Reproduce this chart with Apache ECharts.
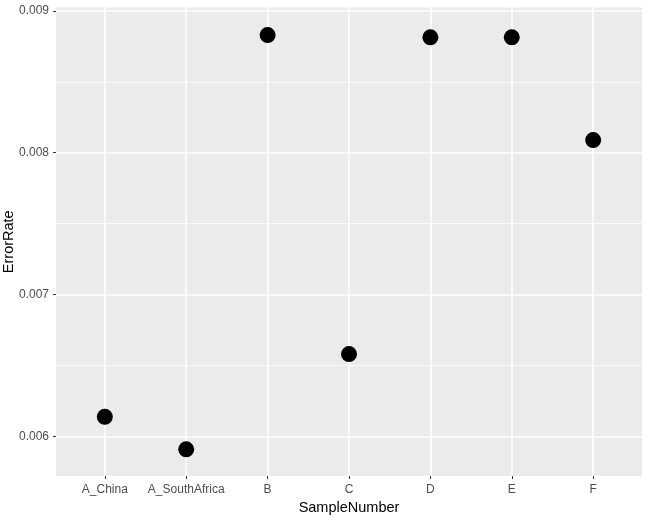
<!DOCTYPE html>
<html>
<head>
<meta charset="utf-8">
<script src="https://cdn.jsdelivr.net/npm/echarts@6/dist/echarts.min.js"></script>
<style>
  html, body { margin: 0; padding: 0; background: #fff; }
  #chart { width: 645px; height: 518px; }
</style>
</head>
<body>
<div id="chart"></div>
<script>
// sample names along the x axis
const categories = ["A_China", "A_SouthAfrica", "B", "C", "D", "E", "F"];
// error rate per sample
const errorRates = [0.00614, 0.005911, 0.008829, 0.006582, 0.008813, 0.008813, 0.008089];
// labelled y ticks and the minor lines between them
const yMajorTicks = [0.006, 0.007, 0.008, 0.009];
const yMinorTicks = [0.0065, 0.0075, 0.0085];

const chart = echarts.init(document.getElementById("chart"));

const points = errorRates.map((v, i) => [i, v]);
const catIdx = categories.map((c, i) => i);

const labelFont = { fontFamily: "Liberation Sans", fontSize: 12, color: "#4d4d4d" };
const titleFont = { fontFamily: "Liberation Sans", fontSize: 14.5, color: "#000" };

chart.setOption({
  animation: false,
  backgroundColor: "#fff",
  grid: {
    left: 56,
    right: 3,
    top: 7.5,
    bottom: 42,
    containLabel: false,
    outerBoundsMode: "none",
    show: true,
    backgroundColor: "#ebebeb",
    borderWidth: 0
  },
  xAxis: {
    type: "value",
    min: -0.6,
    max: 6.6,
    name: "SampleNumber",
    nameLocation: "middle",
    nameGap: 24,
    nameMoveOverlap: false,
    nameTextStyle: titleFont,
    axisLine: { show: false, onZero: false },
    axisTick: {
      show: true,
      length: 3,
      customValues: catIdx,
      lineStyle: { color: "#333", width: 1 }
    },
    axisLabel: Object.assign({
      customValues: catIdx,
      margin: 8,
      formatter: v => categories[Math.round(v)]
    }, labelFont),
    splitLine: { show: true, lineStyle: { color: "#fff", width: 1.6 } }
  },
  yAxis: [
    {
      type: "value",
      min: 0.005723,
      max: 0.009023,
      name: "ErrorRate",
      nameLocation: "middle",
      nameGap: 40,
      nameMoveOverlap: false,
      nameTextStyle: titleFont,
      axisLine: { show: false, onZero: false },
      axisTick: {
        show: true,
        length: 3,
        customValues: yMajorTicks,
        lineStyle: { color: "#333", width: 1 }
      },
      axisLabel: Object.assign({
        customValues: yMajorTicks,
        margin: 7,
        formatter: v => v.toFixed(3)
      }, labelFont),
      splitLine: { show: true, lineStyle: { color: "#fff", width: 1.6 } }
    },
    {
      type: "value",
      min: 0.005723,
      max: 0.009023,
      position: "left",
      axisLine: { show: false, onZero: false },
      axisTick: { show: false, customValues: yMinorTicks },
      axisLabel: { show: false },
      splitLine: { show: true, lineStyle: { color: "#fff", width: 0.8 } }
    }
  ],
  series: [
    {
      type: "scatter",
      data: points,
      symbol: "circle",
      symbolSize: 16,
      itemStyle: { color: "#000", opacity: 1 },
      z: 5
    }
  ]
});
</script>
</body>
</html>
